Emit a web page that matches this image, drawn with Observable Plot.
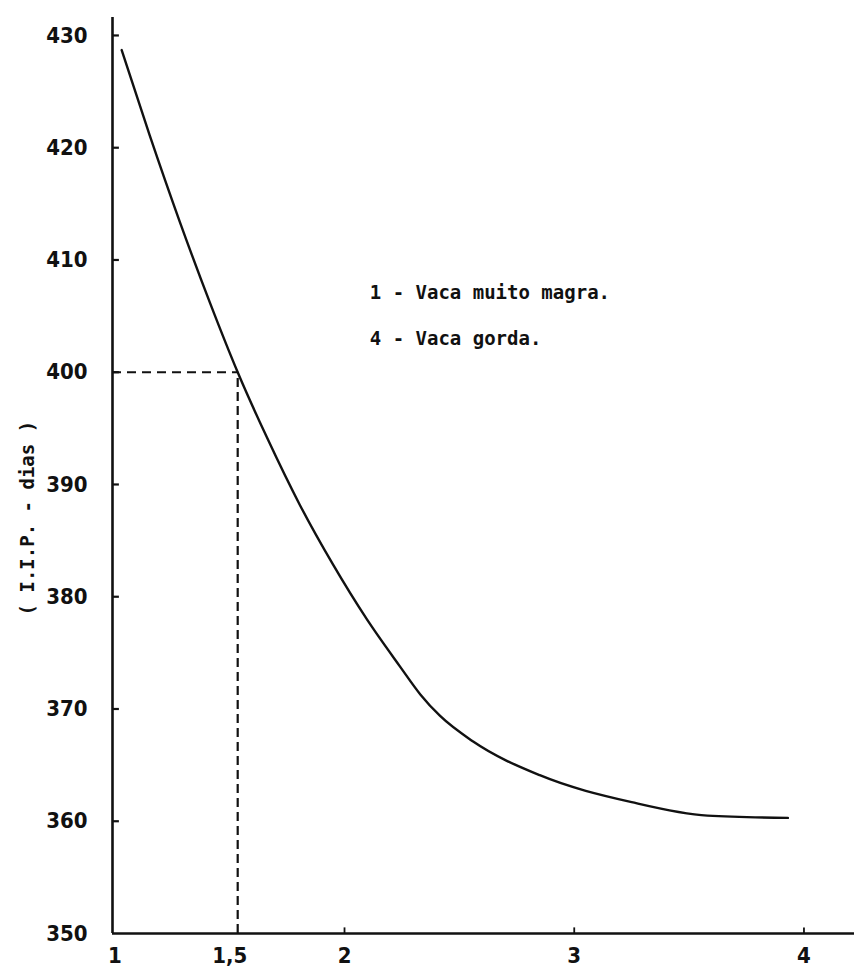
<!DOCTYPE html>
<html>
<head>
<meta charset="utf-8">
<script src="https://cdn.jsdelivr.net/npm/d3@7"></script>
<script src="https://cdn.jsdelivr.net/npm/@observablehq/plot@0.6"></script>
<style>
  html, body { margin: 0; padding: 0; background: #fff; }
  #chart svg { display: block; }
</style>
</head>
<body>
<div id="chart"></div>
<script>
// Curve: condition score (x) vs calving interval I.I.P. in days (y)
const curveX = [1.03, 1.152, 1.283, 1.414, 1.535, 1.662, 1.805, 1.949, 2.097, 2.241, 2.33, 2.415, 2.56, 2.85, 3.25, 3.58, 3.93];
const curveY = [428.7, 421.1, 413.4, 406.2, 400.0, 394.2, 388.2, 382.9, 378.0, 373.8, 371.3, 369.4, 367.1, 364.1, 361.7, 360.5, 360.3];

const xTicks = [1, 1.5, 2, 3, 4];
const xTickLabels = ["1", "1,5", "2", "3", "4"];
const xMarkTicks = [2, 3, 4];
const yTicks = [350, 360, 370, 380, 390, 400, 410, 420, 430];
const yMarkTicks = [360, 370, 380, 390, 400, 410, 420, 430];

const refY = 400;          // dashed reference level
const refX = 1.535;        // where the curve meets 400 days

const yLabel = "( I.I.P. - dias )";
const yLabelAt = 387;
const legendLines = ["1 - Vaca muito magra.", "4 - Vaca gorda."];
const legendX = 2.11;
const legendY = [407.1, 403.0];

const xMin = 0.99, xMax = 4.22;
const yMin = 350, yMax = 431.6;
const yTickLen = 0.03;   // inward tick length in x units
const xTickLen = 0.5;    // inward tick length in y units

const curve = curveX.map((x, i) => ({x, y: curveY[i]}));
const legend = legendLines.map((t, i) => ({t, x: legendX, y: legendY[i]}));

const numFont = "'Liberation Sans Narrow', 'DejaVu Sans Condensed', sans-serif";
const monoFont = "'DejaVu Sans Mono', 'Liberation Mono', monospace";

const chart = Plot.plot({
  width: 854,
  height: 972,
  marginLeft: 112,
  marginRight: 0,
  marginTop: 17,
  marginBottom: 39,
  style: {fontFamily: numFont, color: "#111", background: "#fff"},
  x: {domain: [xMin, xMax]},
  y: {domain: [yMin, yMax]},
  marks: [
    // dashed guide lines
    Plot.ruleY([refY], {x1: xMin, x2: refX, stroke: "#111", strokeWidth: 2, strokeDasharray: "9,6"}),
    Plot.ruleX([refX], {y1: yMin, y2: refY, stroke: "#111", strokeWidth: 2.2, strokeDasharray: "9,5"}),
    // axis lines
    Plot.ruleX([xMin], {stroke: "#111", strokeWidth: 2.6}),
    Plot.ruleY([yMin], {stroke: "#111", strokeWidth: 2.6}),
    // inward tick marks
    Plot.ruleY(yMarkTicks, {x1: xMin, x2: xMin + yTickLen, stroke: "#111", strokeWidth: 2.2}),
    Plot.ruleX(xMarkTicks, {y1: yMin, y2: yMin + xTickLen, stroke: "#111", strokeWidth: 1.8}),
    // tick labels
    Plot.axisY({ticks: yTicks, tickSize: 0, tickPadding: 25, label: null, fontSize: 22, fontWeight: "bold", tickFormat: d => String(d)}),
    Plot.axisX({ticks: xTicks, tickSize: 0, tickPadding: 14, label: null, fontSize: 22, fontWeight: "bold",
                tickFormat: d => xTickLabels[xTicks.indexOf(d)]}),
    // the curve
    Plot.line(curve, {x: "x", y: "y", curve: "monotone-x", stroke: "#111", strokeWidth: 2.4}),
    // y axis title
    Plot.text([yLabel], {x: xMin, y: yLabelAt, rotate: -90, dx: -85, textAnchor: "middle", fontSize: 19, fontWeight: "bold",
                         fontFamily: monoFont, fill: "#111"}),
    // legend
    Plot.text(legend, {x: "x", y: "y", text: "t", textAnchor: "start", fontSize: 19, fontWeight: "bold",
                       fontFamily: monoFont, fill: "#111"})
  ]
});
document.getElementById("chart").appendChild(chart);
</script>
</body>
</html>
